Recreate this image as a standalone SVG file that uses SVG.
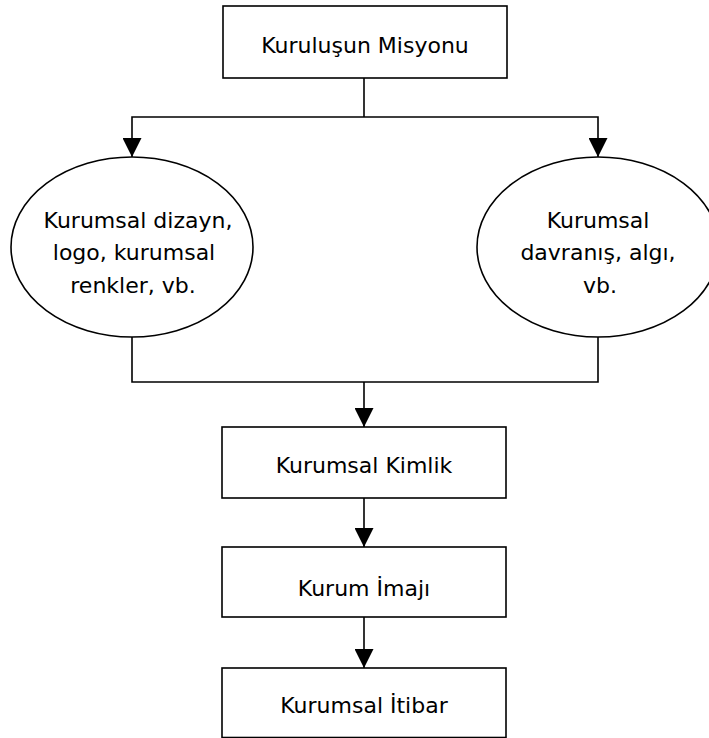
<svg xmlns="http://www.w3.org/2000/svg" width="709" height="738" viewBox="0 0 709 738">
  <style>
    .box { fill: #ffffff; stroke: #000000; stroke-width: 1.6; }
    .conn { fill: none; stroke: #000000; stroke-width: 1.6; }
    .lbl { font-family: "DejaVu Sans", Verdana, sans-serif; font-size: 22px; fill: #000000; text-anchor: middle; }
  </style>
  <defs>
    <marker id="arrow" viewBox="0 0 19 19" refX="19" refY="9.5" markerWidth="19" markerHeight="19" markerUnits="userSpaceOnUse" orient="auto">
      <path d="M0,0 L19,9.5 L0,19 z" fill="#000000"/>
    </marker>
  </defs>
  <rect width="709" height="738" fill="#ffffff"/>

  <g id="connectors">
    <polyline class="conn" points="364,78 364,117"/>
    <polyline class="conn" points="364,117 132,117 132,157" marker-end="url(#arrow)"/>
    <polyline class="conn" points="364,117 598,117 598,157" marker-end="url(#arrow)"/>
    <polyline class="conn" points="132,337 132,382 598,382 598,337"/>
    <polyline class="conn" points="364,382 364,427" marker-end="url(#arrow)"/>
    <polyline class="conn" points="364,498 364,547" marker-end="url(#arrow)"/>
    <polyline class="conn" points="364,617 364,668" marker-end="url(#arrow)"/>
  </g>

  <g id="misyon">
    <rect class="box" x="223" y="6" width="284" height="72"/>
    <text class="lbl" x="365" y="53">Kuruluşun Misyonu</text>
  </g>

  <g id="dizayn">
    <ellipse class="box" cx="132" cy="247" rx="121" ry="90"/>
    <text class="lbl" x="138" y="228">Kurumsal dizayn,</text>
    <text class="lbl" x="134" y="260">logo, kurumsal</text>
    <text class="lbl" x="133" y="293">renkler, vb.</text>
  </g>

  <g id="davranis">
    <ellipse class="box" cx="598" cy="247" rx="121" ry="90"/>
    <text class="lbl" x="598" y="228">Kurumsal</text>
    <text class="lbl" x="598" y="260">davranış, algı,</text>
    <text class="lbl" x="600" y="293">vb.</text>
  </g>

  <g id="kimlik">
    <rect class="box" x="222" y="427" width="284" height="71"/>
    <text class="lbl" x="364" y="473">Kurumsal Kimlik</text>
  </g>

  <g id="imaj">
    <rect class="box" x="222" y="547" width="284" height="70"/>
    <text class="lbl" x="364" y="596">Kurum İmajı</text>
  </g>

  <g id="itibar">
    <rect class="box" x="222" y="668" width="284" height="69.5"/>
    <text class="lbl" x="364" y="713">Kurumsal İtibar</text>
  </g>
</svg>
